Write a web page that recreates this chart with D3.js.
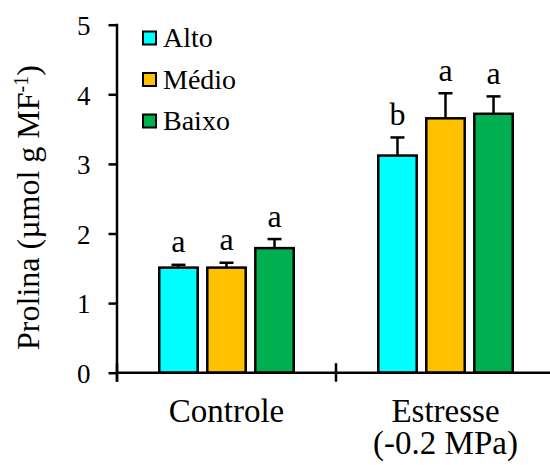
<!DOCTYPE html>
<html>
<head>
<meta charset="utf-8">
<script src="https://cdn.jsdelivr.net/npm/d3@7/dist/d3.min.js"></script>
<style>
  html, body { margin: 0; padding: 0; background: #fff; }
  svg { display: block; }
</style>
</head>
<body>
<script>
// Proline content by treatment and level
const categories = ["Controle", "Estresse"];
const categoryLines = [["Controle"], ["Estresse", "(-0.2 MPa)"]];
const series = ["Alto", "Médio", "Baixo"];
const seriesColors = ["#00FFFF", "#FFC000", "#00B050"];
const altoValues = [1.51, 3.12];
const medioValues = [1.51, 3.655];
const baixoValues = [1.79, 3.72];
const altoErrors = [0.04, 0.26];
const medioErrors = [0.07, 0.36];
const baixoErrors = [0.13, 0.25];
const altoLetters = ["a", "b"];
const medioLetters = ["a", "a"];
const baixoLetters = ["a", "a"];
const yTicks = [0, 1, 2, 3, 4, 5];

const FONT = '"Liberation Serif"';

const valuesBySeries = [altoValues, medioValues, baixoValues];
const errorsBySeries = [altoErrors, medioErrors, baixoErrors];
const lettersBySeries = [altoLetters, medioLetters, baixoLetters];

const rows = [];
categories.forEach((c, ci) => {
  series.forEach((s, si) => {
    rows.push({
      category: c, series: s, color: seriesColors[si],
      value: valuesBySeries[si][ci],
      error: errorsBySeries[si][ci],
      letter: lettersBySeries[si][ci]
    });
  });
});

const W = 550, H = 465;
const svg = d3.select("body").append("svg")
  .attr("width", W).attr("height", H);

const plotLeft = 117, plotRight = 555, yBottom = 372.7, yTop = 24.7;
const y = d3.scaleLinear().domain([0, 5]).range([yBottom, yTop]);
const x0 = d3.scaleBand().domain(categories).range([plotLeft, plotRight]);
const x1 = d3.scaleBand().domain(series).range([0, x0.bandwidth()])
  .paddingInner(0.2).paddingOuter(0.88);

const axisW = 2.5;

// bars
const g = svg.append("g");
g.selectAll("rect.bar").data(rows).join("rect")
  .attr("class", "bar")
  .attr("x", d => x0(d.category) + x1(d.series))
  .attr("y", d => y(d.value))
  .attr("width", x1.bandwidth())
  .attr("height", d => y(0) - y(d.value))
  .attr("fill", d => d.color)
  .attr("stroke", "#000")
  .attr("stroke-width", 2.5);

// error bars (upper only)
const cx = d => x0(d.category) + x1(d.series) + x1.bandwidth() / 2;
const capHalf = 7;
g.selectAll("line.err").data(rows).join("line")
  .attr("class", "err")
  .attr("x1", cx).attr("x2", cx)
  .attr("y1", d => y(d.value)).attr("y2", d => y(d.value + d.error))
  .attr("stroke", "#000").attr("stroke-width", 2.5);
g.selectAll("line.cap").data(rows).join("line")
  .attr("class", "cap")
  .attr("x1", d => cx(d) - capHalf).attr("x2", d => cx(d) + capHalf)
  .attr("y1", d => y(d.value + d.error)).attr("y2", d => y(d.value + d.error))
  .attr("stroke", "#000").attr("stroke-width", 2.5);

// significance letters
g.selectAll("text.letter").data(rows).join("text")
  .attr("class", "letter")
  .attr("x", cx)
  .attr("y", d => y(d.value + d.error) - 12.5)
  .attr("text-anchor", "middle")
  .style("font-family", FONT)
  .style("font-size", "32px")
  .attr("fill", "#000")
  .text(d => d.letter);

// y axis
const yAxis = d3.axisLeft(y).tickValues(yTicks).tickSize(8.5).tickPadding(18)
  .tickFormat(d3.format("d"));
const ya = svg.append("g").attr("transform", `translate(${plotLeft},0)`).call(yAxis);
ya.select(".domain").remove();
ya.selectAll(".tick line").attr("stroke", "#000").attr("stroke-width", axisW);
ya.selectAll(".tick text")
  .style("font-family", FONT)
  .style("font-size", "27px")
  .attr("fill", "#000").attr("dy", "0.36em");
svg.append("line")
  .attr("x1", plotLeft).attr("x2", plotLeft)
  .attr("y1", y(5) - 1).attr("y2", yBottom + 9)
  .attr("stroke", "#000").attr("stroke-width", axisW);

// x axis with crossing category ticks
svg.append("line")
  .attr("x1", plotLeft).attr("x2", plotRight)
  .attr("y1", yBottom).attr("y2", yBottom)
  .attr("stroke", "#000").attr("stroke-width", axisW);
const boundaries = categories.map(c => x0(c)).concat([x0.range()[1]]);
svg.selectAll("line.xtick").data(boundaries).join("line")
  .attr("class", "xtick")
  .attr("x1", d => d).attr("x2", d => d)
  .attr("y1", yBottom - 9.5).attr("y2", yBottom + 9)
  .attr("stroke", "#000").attr("stroke-width", axisW);

// category labels
const xl = svg.selectAll("text.cat").data(categories).join("text")
  .attr("class", "cat")
  .attr("x", c => x0(c) + x0.bandwidth() / 2)
  .attr("y", 422.3)
  .attr("text-anchor", "middle")
  .style("font-family", FONT)
  .style("font-size", "33px")
  .attr("fill", "#000");
xl.each(function(c, i) {
  const t = d3.select(this);
  categoryLines[i].forEach((line, li) => {
    t.append("tspan")
      .attr("x", x0(c) + x0.bandwidth() / 2)
      .attr("dy", li === 0 ? 0 : 31.5)
      .text(line);
  });
});

// y axis title
const title = svg.append("text")
  .attr("transform", "translate(38.5,207.5) rotate(-90)")
  .attr("text-anchor", "middle")
  .style("font-family", FONT)
  .style("font-size", "32px")
  .attr("fill", "#000");
title.append("tspan").text("Prolina (µmol g MF");
title.append("tspan").attr("baseline-shift", "super").style("font-size", "20px").text("-1");
title.append("tspan").text(")");

// legend
const legend = svg.append("g");
const legendY = [38, 79.5, 121];
series.forEach((s, i) => {
  legend.append("rect")
    .attr("x", 143).attr("y", legendY[i] - 6.5)
    .attr("width", 13).attr("height", 13)
    .attr("fill", seriesColors[i])
    .attr("stroke", "#000").attr("stroke-width", 2);
  legend.append("text")
    .attr("x", 163).attr("y", legendY[i])
    .attr("dy", "0.33em")
    .style("font-family", FONT)
    .style("font-size", "28px")
    .attr("fill", "#000")
    .text(s);
});
</script>
</body>
</html>
